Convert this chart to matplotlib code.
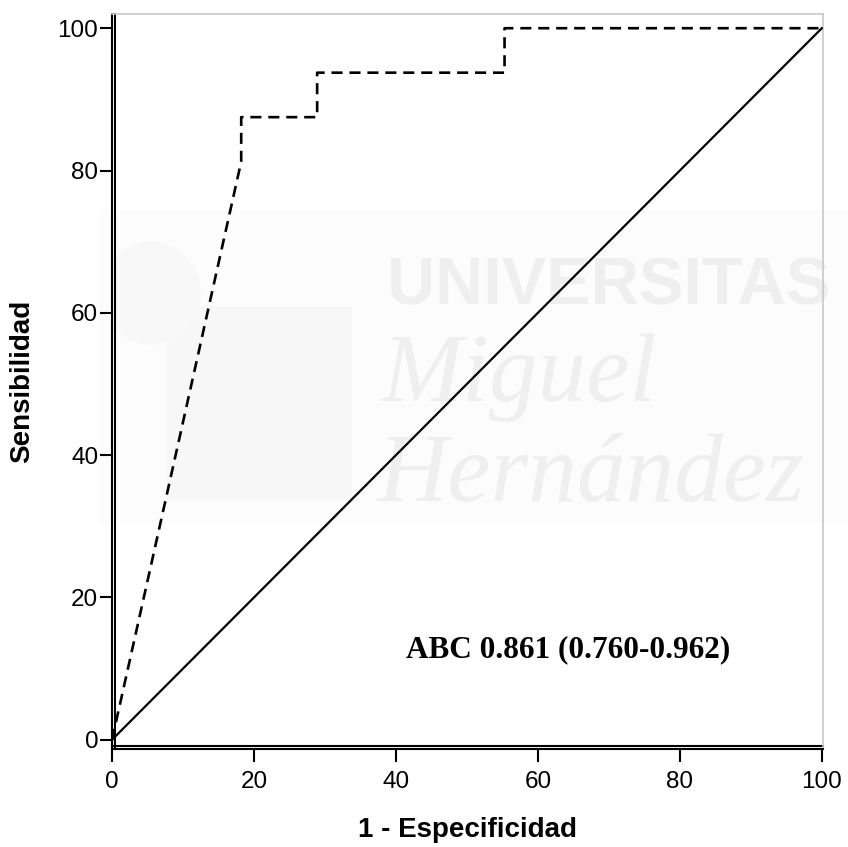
import matplotlib.pyplot as plt
from matplotlib.lines import Line2D
from matplotlib.patches import Rectangle, Circle
from matplotlib.transforms import ScaledTranslation

# ROC curve (1 - specificity, sensitivity), in %
fpr = [0, 18.2, 18.2, 28.9, 28.9, 55.3, 55.3, 100]
tpr = [0, 81.25, 87.5, 87.5, 93.75, 93.75, 100, 100]
ref_x = [0, 100]
ref_y = [0, 100]
ticks = [0, 20, 40, 60, 80, 100]
auc_text = "ABC 0.861 (0.760-0.962)"

plt.rcParams['font.family'] = ['Liberation Sans', 'DejaVu Sans']

fig = plt.figure(figsize=(8.48, 8.47), dpi=100)
ax = fig.add_axes([0.1321, 0.1157, 0.8387, 0.8678])
ax.set_facecolor('none')

# faint watermark behind the plot
band = Rectangle((0.118, (847 - 523) / 847), 0.882, 313 / 847,
                 transform=fig.transFigure, facecolor='#fcfcfc',
                 edgecolor='none', zorder=-5)
fig.patches.append(band)

wm = '#efefef'
ax.add_patch(Rectangle((0.077, 0.339), 0.261, 0.263, transform=ax.transAxes,
                       facecolor='#f7f7f7', edgecolor='none', zorder=0))
ax.add_patch(Circle((0.055, 0.62), 0.07, transform=ax.transAxes,
                    facecolor='#f8f8f8', edgecolor='none', zorder=0))
ax.text(0.386, 0.605, "UNIVERSITAS", transform=ax.transAxes, fontsize=48,
        fontweight='bold', color=wm, ha='left', va='baseline', zorder=0)
ax.text(0.379, 0.473, "Miguel", transform=ax.transAxes, fontsize=70,
        family='Liberation Serif', style='italic', color=wm, ha='left',
        va='baseline', zorder=0)
ax.text(0.372, 0.337, "Hernández", transform=ax.transAxes, fontsize=70,
        family='Liberation Serif', style='italic', color=wm, ha='left',
        va='baseline', zorder=0)

ax.plot(ref_x, ref_y, color='black', lw=1.6, zorder=3)
ax.plot(fpr, tpr, color='black', lw=1.9, ls=(0, (4.2, 2.6)), zorder=3)

ax.text(64.3, 12.7, auc_text, family='Liberation Serif', fontweight='bold',
        fontsize=22.5, ha='center', va='center')

ax.set_xlim(0, 100.2)
ax.set_ylim(-1.3, 102)
ax.set_xticks(ticks)
ax.set_yticks(ticks)
ax.tick_params(direction='out', length=9, width=1.5, labelsize=17.5)
ax.tick_params(axis='x', pad=7)
ax.tick_params(axis='y', pad=1)

for s in ['top', 'right']:
    ax.spines[s].set_color('#c8c8c8')
    ax.spines[s].set_linewidth(1.2)
for s in ['left', 'bottom']:
    ax.spines[s].set_color('black')
    ax.spines[s].set_linewidth(1.5)

# second line of the double axis lines
off = ScaledTranslation(3 / 100, 0, fig.dpi_scale_trans)
ax.add_line(Line2D([0, 0], [0, 1], color='black', lw=1.5,
                   transform=ax.transAxes + off, clip_on=False))
off = ScaledTranslation(0, 3 / 100, fig.dpi_scale_trans)
ax.add_line(Line2D([0, 1], [0, 0], color='black', lw=1.5,
                   transform=ax.transAxes + off, clip_on=False))

ax.set_xlabel("1 - Especificidad", fontsize=20, fontweight='bold', labelpad=17)
ax.set_ylabel("Sensibilidad", fontsize=20, fontweight='bold', labelpad=16)

fig.savefig("out.png", dpi=100)
